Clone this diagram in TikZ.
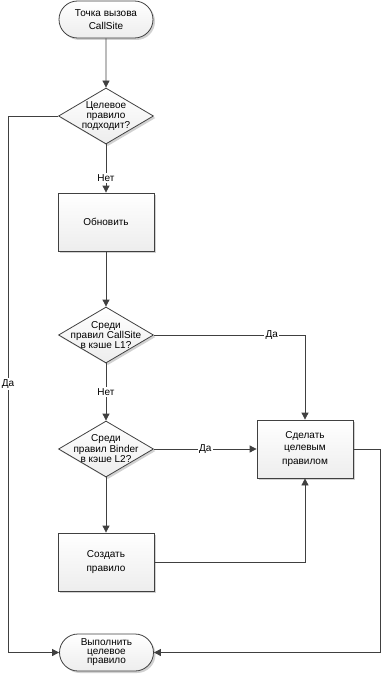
\documentclass[tikz,border=0pt]{standalone}
\usepackage{fontspec}
\setmainfont{Liberation Sans}
\usetikzlibrary{shapes.geometric,shapes.misc,shadows,arrows.meta}
\definecolor{ln}{HTML}{404040}
\tikzset{
  x=1pt,y=-1pt,
  every node/.style={font=\fontsize{10}{11}\selectfont, text=black},
  boxbase/.style={draw=ln, line width=0.8pt, top color=white, bottom color=gray!14,
    drop shadow={shadow xshift=2pt, shadow yshift=-2pt, fill=gray!60, opacity=0.6}},
  term/.style={boxbase, rounded rectangle, minimum width=94pt, minimum height=37pt, inner sep=0pt, align=center},
  proc/.style={boxbase, rectangle, minimum width=96pt, minimum height=58pt, inner sep=0pt, align=center},
  dia/.style={boxbase, diamond, minimum width=95pt, minimum height=56pt, inner sep=0pt},
  txt/.style={align=center, inner sep=0pt},
  arr/.style={draw=ln, line width=0.8pt, -{Triangle[length=7pt,width=7pt]}},
  lbl/.style={fill=white, inner sep=1.5pt}
}
\begin{document}
\begin{tikzpicture}
\useasboundingbox (0,0) rectangle (381,674);
\node[term] (t1) at (106,19.5) {Точка вызова\\[2pt]CallSite};
\node[dia] (d1) at (106,116) {};
\node[txt, font=\fontsize{10}{10}\selectfont] at (d1) {Целевое\\правило\\подходит?};
\node[proc] (r1) at (106,222) {Обновить};
\node[dia] (d2) at (106,335) {};
\node[txt, font=\fontsize{10}{9}\selectfont] at (d2) {Среди\\правил CallSite\\в кэше L1?};
\node[dia] (d3) at (106,449) {};
\node[txt, font=\fontsize{10}{10.5}\selectfont] at (d3) {Среди\\правил Binder\\в кэше L2?};
\node[proc] (s1) at (305,449) {Сделать\\[1pt]целевым\\[3pt]правилом};
\node[proc] (c1) at (106,562) {Создать\\[3pt]правило};
\node[term] (t2) at (106.5,652.5) {};
\node[txt, font=\fontsize{10}{9}\selectfont] at (t2) {Выполнить\\целевое\\правило};

\coordinate (l1) at (8,116);
\coordinate (l2) at (8,652.5);
\coordinate (r2) at (380,449);
\coordinate (r3) at (380,652.5);

\draw[arr] (t1) -- (d1);
\draw[arr] (d1.west) -- (l1) -- node[lbl]{Да} (l2) -- (t2.west);
\draw[arr] (d1) -- node[lbl,pos=0.7]{Нет} (r1);
\draw[arr] (r1) -- (d2);
\draw[arr] (d2.east) -| node[lbl,pos=0.39]{Да} (s1.north);
\draw[arr] (d2) -- node[lbl]{Нет} (d3);
\draw[arr] (d3) -- node[lbl]{Да} (s1);
\draw[arr] (d3) -- (c1);
\draw[arr] (c1.east) -| (s1.south);
\draw[arr] (s1.east) -- (r2) -- (r3) -- (t2.east);
\end{tikzpicture}
\end{document}
